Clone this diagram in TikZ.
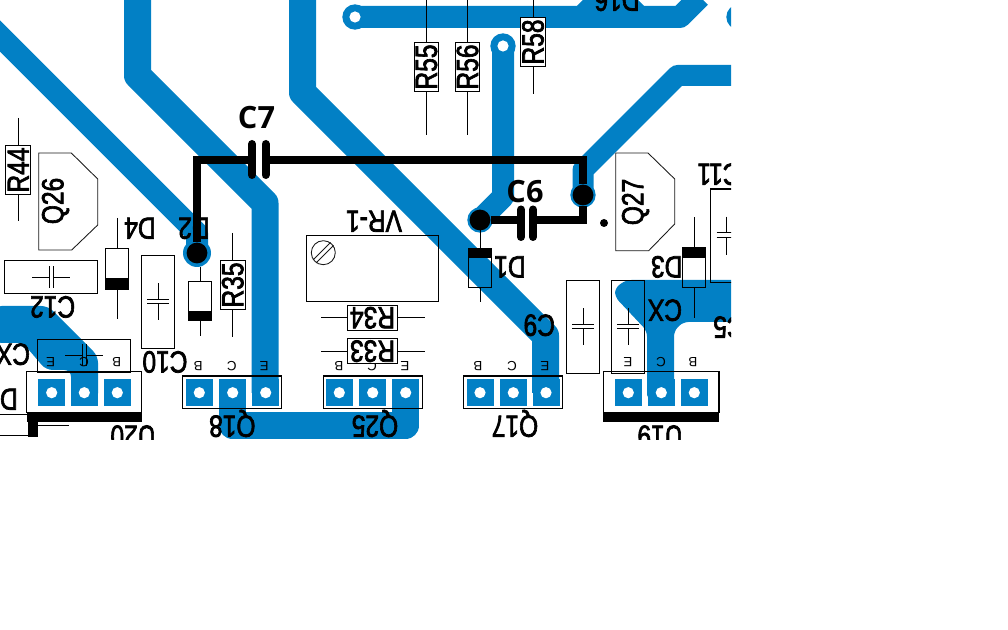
\documentclass[tikz,border=0pt]{standalone}
\usepackage{graphicx}
\usepackage{fontspec}
\usepackage{xcolor}
\usetikzlibrary{calc}
\newfontfamily\pcbfont[FakeBold=2.5]{Liberation Sans}
\newfontfamily\pinfont{Liberation Sans}
\newfontfamily\capfont{Open Sans}
\definecolor{pcbblue}{RGB}{2,128,197}
\newcommand{\pcbtxt}[1]{\scalebox{.8}[1]{#1}}
\tikzset{
  trace/.style={draw=pcbblue, line width=#1*0.75pt, line join=round},
  trace/.default=27,
  wire/.style={draw=black, line width=5.6pt, line join=miter},
  plate/.style={draw=black, line width=6pt, line cap=round},
  part/.style={draw=black, line width=0.85pt},
  lead/.style={draw=black, line width=0.75pt},
  hair/.style={draw=black!90, line width=0.65pt},
  lab/.style={font=\pcbfont\fontsize{23pt}{23pt}\selectfont, inner sep=0pt, text height=15.5pt, text depth=0pt},
  pinlab/.style={font=\pinfont\fontsize{10pt}{10pt}\selectfont, inner sep=0pt, rotate=180},
  capname/.style={font=\capfont\bfseries\fontsize{23pt}{23pt}\selectfont, inner sep=0pt},
  resbox/.style={part, fill=white, inner sep=0pt, minimum width=37pt, minimum height=18.6pt, font=\pcbfont\fontsize{23pt}{23pt}\selectfont},
  padsq/.style={fill=pcbblue, inner sep=0pt, minimum size=20.25pt},
  hole/.style={fill=white, circle, inner sep=0pt, minimum size=8.4pt},
  via/.style={fill=pcbblue, circle, inner sep=0pt, minimum size=19pt},
  joint/.style={fill=black, circle, inner sep=0pt, minimum size=15.6pt},
}
\begin{document}
\begin{tikzpicture}[x=0.75pt,y=-0.75pt]
\useasboundingbox (0,0) rectangle (1008,630);
\begin{scope}
\clip (0,0) rectangle (731,440);

% copper
\draw [trace=22] (-20,16) -- (197,233) -- (197,253);
\draw [trace] (137.5,-5) -- (137.5,75.5) -- (265,203) -- (265,393);
\draw [trace] (302.5,-5) -- (302.5,92.5) -- (545.5,335.5) -- (545.5,393);
\draw [trace=22] (355,17) -- (680,17) -- (700,-3);
\draw [trace=22] (503,46) -- (503,197) -- (480,220);
\draw [trace=21] (583,195) -- (583,170) -- (677.5,75.5) -- (740,75.5);
\draw [trace] (232.5,393) -- (232.5,425.5) -- (405.5,425.5) -- (405.5,393);
\fill [pcbblue] (577,6) -- (583,0) -- (638,0) -- (644,6) -- cycle;
\fill [pcbblue, rounded corners=5pt] (-5,306) -- (48,306) -- (98,356) -- (98,400) -- (71,400) -- (71,370) -- (46,370) -- (23,343) -- (-5,343) -- cycle;
\fill [pcbblue, rounded corners=4pt] (626,280) -- (740,280) -- (740,322) -- (683,322) -- (674,331) -- (674,400) -- (647,400) -- (647,331) -- (615,297) -- (615,288) -- cycle;

\node [via] (viaTop) at (355,17) {};
\node [via] (viaMid) at (503,46) {};
\node [via] (viaEdge) at (739,17) {};
\node [via, minimum size=21pt] (viaLeft) at (197,253) {};
\node [via] (viaA) at (480,220) {};
\node [via] (viaB) at (583,195) {};
\node [hole] at (viaTop) {};
\node [hole] at (viaMid) {};

% headers
\foreach \nm/\xa/\xb/\xc in {U20/51.7/84.3/117.3, Q18/199.3/232.7/265.7, Q25/339.3/372.7/405.7, Q17/480/513.3/546, U19/628.3/661.3/694.3}{
  \foreach \k/\x in {a/\xa, b/\xb, c/\xc}{
    \node [padsq] (\nm\k) at (\x, 392.7) {};
    \node [hole] at (\nm\k) {};
  }
}
\foreach \x/\wd in {182.3/281.7, 323.3/422.7, 463.3/562.7}
  \draw [part] (\x, 376) rectangle (\wd, 408.3);
\foreach \x/\wd in {26.7/141.7, 603.3/719}{
  \draw [part] (\x, 371.3) rectangle (\wd, 412.3);
  \fill (\x, 412.3) rectangle (\wd, 421.7);
}
\fill (28,421) rectangle (38,437);
\draw [lead] (38,425.7) -- (69,425.7);
\draw [lead] (0,414.3) -- (26.7,414.3);
\draw [lead] (0,436) -- (28,436);

% pin letters
\foreach \x/\y/\t in {50.7/361.7/E, 84/361.7/C, 116.7/361.7/B, 198.3/366/B, 231.7/366/C, 264.3/366/E, 339/366/B, 372/366/C, 405/366/E, 478/366/B, 512/366/C, 545/366/E, 628/362/E, 661/362/C, 693/362/B}
  \node [pinlab] at (\x,\y) {\t};

% resistors
\foreach \nm/\x/\y/\ya/\yb in {R44/18.3/170/118/221, R55/426.5/67/0/135, R56/467.5/67/0/135, R58/533/42/0/94, R35/232.7/285/233/337}{
  \draw [lead] (\x,\ya) -- (\x,\yb);
  \node [resbox, rotate=90] (\nm) at (\x,\y) {\pcbtxt{\nm}};
}
\foreach \nm/\y in {R34/317.8, R33/351.2}{
  \draw [lead] (321,\y) -- (425,\y);
  \node [resbox, rotate=180] (\nm) at (372.5,\y) {\pcbtxt{\nm}};
}

% diodes, band given by its two y values
\foreach \x/\ya/\yb/\ba/\bb/\la/\lb in {117/248.3/289/278/289/218/319.3, 200/281.3/320.7/310.7/320.7/267.3/335.7, 480/248.3/287.3/248.3/258.3/220/301.7, 694/248/287.3/248/258/217.3/318.3}{
  \draw [lead] (\x,\la) -- (\x,\ya);
  \draw [lead] (\x,\yb) -- (\x,\lb);
  \draw [part] (\x-11.7,\ya) rectangle (\x+11.7,\yb);
  \fill (\x-11.7,\ba) rectangle (\x+11.7,\bb);
}

% capacitors standing
\foreach \x/\ya/\yb/\w in {158/255.3/348.3/16.7, 583/280.3/373.3/16.7, 628/280.3/373.3/16.7}{
  \draw [part] (\x-\w,\ya) rectangle (\x+\w,\yb);
  \draw [lead] (\x,\ya+28) -- (\x,\ya+44.5);
  \draw [lead] (\x,\ya+48.5) -- (\x,\yb-28);
  \draw [lead] (\x-11,\ya+44.5) -- (\x+11,\ya+44.5);
  \draw [lead] (\x-11,\ya+48.5) -- (\x+11,\ya+48.5);
}
\draw [part] (710.3,189) rectangle (745,282.3);
\draw [lead] (726.7,216.7) -- (726.7,232.7);
\draw [lead] (726.7,237.7) -- (726.7,255);
\draw [lead] (716.7,232.7) -- (736,232.7);
\draw [lead] (716.7,237.7) -- (736,237.7);

% capacitors lying
\foreach \x/\ya/\yb/\cy/\xa/\xb in {51/260.3/293.3/277.3/4.3/97.7, 84/339.3/372.3/355.3/37.3/130.7}{
  \draw [part] (\xa,\ya) rectangle (\xb,\yb);
  \draw [lead] (\x-19,\cy) -- (\x-2,\cy);
  \draw [lead] (\x+2,\cy) -- (\x+19,\cy);
  \draw [lead] (\x-2,\cy-11) -- (\x-2,\cy+11);
  \draw [lead] (\x+2,\cy-11) -- (\x+2,\cy+11);
}

% transistor outlines
\draw [hair] (38.7,153) -- (71.3,153) -- (97.7,179) -- (97.7,225) -- (71.7,250) -- (38.7,250) -- cycle;
\draw [hair] (615.7,153) -- (648,153) -- (674.7,179) -- (674.7,224) -- (648.7,250.7) -- (615.7,250.7) -- cycle;

% trimmer
\draw [part] (306.3,235.3) rectangle (438.3,301.3);
\node [hair, circle, inner sep=0pt, minimum size=18pt] (trim) at (323.3,252.7) {};
\draw [hair] ($(trim.north east)+(-1.5,-1.5)$) -- ($(trim.south west)+(-1.5,-1.5)$);
\draw [hair] ($(trim.north east)+(1.5,1.5)$) -- ($(trim.south west)+(1.5,1.5)$);

% names
\foreach \x/\y/\t in {53/201/Q26, 633/202/Q27}
  \node [lab, rotate=90] at (\x,\y) {\pcbtxt{\t}};
\foreach \nm/\x/\y/\t in {nD4/140/228/D4, nD2/194/228/D2, nC12/52.7/306.7/C12, nC10/165/361.7/C10, nCXa/13/354/CX, nU20/133/436/U20, nQ18/232.3/426/Q18, nQ25/375/426/Q25, nQ17/515/426/Q17, nU19/660/436/U19, nVR/374/221/VR-1, nD1/510/266.7/D1, nC9/539.3/325/C9, nCXb/665/310/CX, nD3/666.7/266.7/D3, nC11/719/174/C11, nD16/617/0/D16}
  \node [lab, rotate=180] (\nm) at (\x,\y) {\pcbtxt{\t}};
\node [lab, rotate=180, anchor=west] (nD0) at (18,399) {\pcbtxt{D0}};
\node [lab, rotate=180, anchor=east] (nC5) at (713,327) {\pcbtxt{C5}};

\end{scope}

% black overlay
\node [joint] (jL) at (197,253) {};
\node [joint] (jA) at (480,220) {};
\node [joint] (jB) at (583,195) {};
\coordinate (C7a) at (252,160);
\coordinate (C7b) at (265.5,160);
\coordinate (C6a) at (521,220);
\coordinate (C6b) at (533,220);
\draw [wire] (jL) |- (C7a);
\draw [wire] (C7b) -| (jB);
\draw [wire] (jA) -- (C6a);
\draw [wire] (C6b) -| (jB);
\draw [plate] (252,144) -- (252,175);
\draw [plate] (265.5,144) -- (265.5,175);
\draw [plate] (521,209.5) -- (521,237);
\draw [plate] (533,209.5) -- (533,237);
\node [fill=black, circle, inner sep=0pt, minimum size=6pt] (dotQ) at (604,223) {};
\node [capname] (nC7) at (256.5,118) {C7};
\node [capname] (nC6) at (525,192) {C6};
\end{tikzpicture}
\end{document}
